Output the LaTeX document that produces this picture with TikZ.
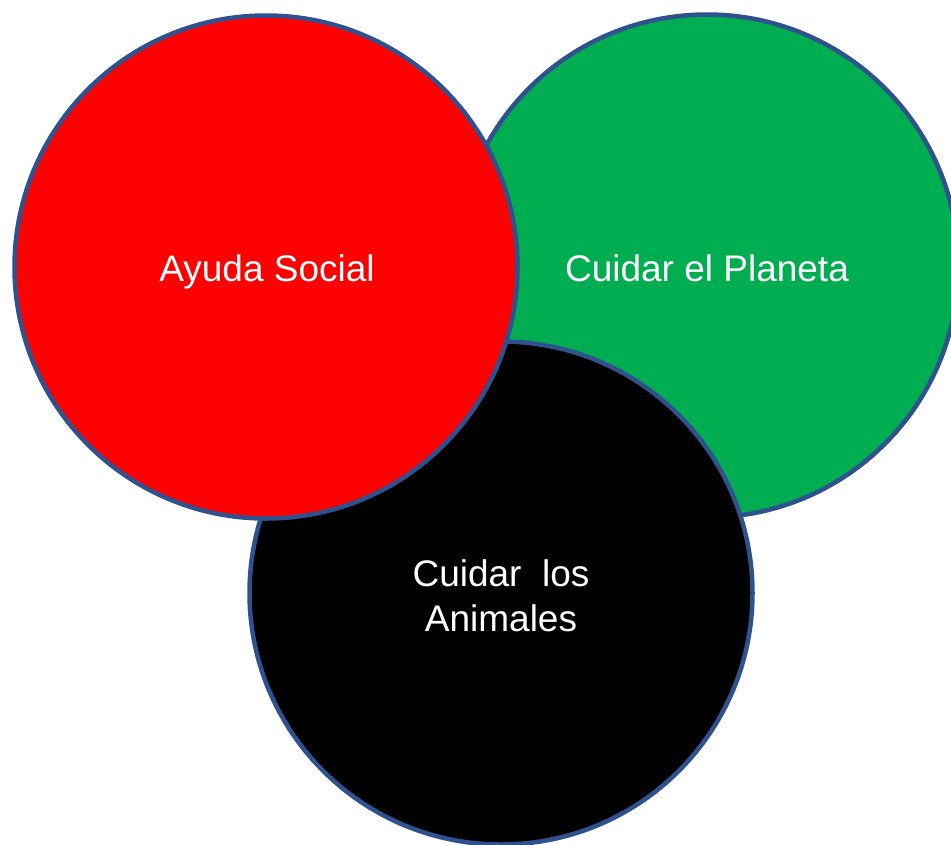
\documentclass[tikz,border=0pt]{standalone}
\usepackage{fontspec}
\setmainfont{Liberation Sans}
\definecolor{rimblue}{HTML}{2F528F}
\definecolor{vgreen}{HTML}{00AD50}
\definecolor{vred}{HTML}{FF0000}
\begin{document}
\begin{tikzpicture}[x=1pt,y=-1pt,
  ring/.style={circle,draw=rimblue,line width=4.5pt,minimum size=503pt,inner sep=0pt},
  lbl/.style={text=white,font=\fontsize{37}{45}\selectfont,align=center}]
\useasboundingbox (0,0) rectangle (951,844);
\node[ring,fill=vgreen] (green) at (707,266) {};
\node[ring,fill=black] (black) at (501,593) {};
\node[ring,fill=vred] (red) at (266,267) {};
\node[lbl,anchor=base] (t1) at (267,281) {Ayuda Social};
\node[lbl,anchor=base] (t2) at (707,281) {Cuidar el Planeta};
\node[lbl,anchor=base] (t3) at (501,631) {Cuidar\ \ los\\Animales};
\end{tikzpicture}
\end{document}
